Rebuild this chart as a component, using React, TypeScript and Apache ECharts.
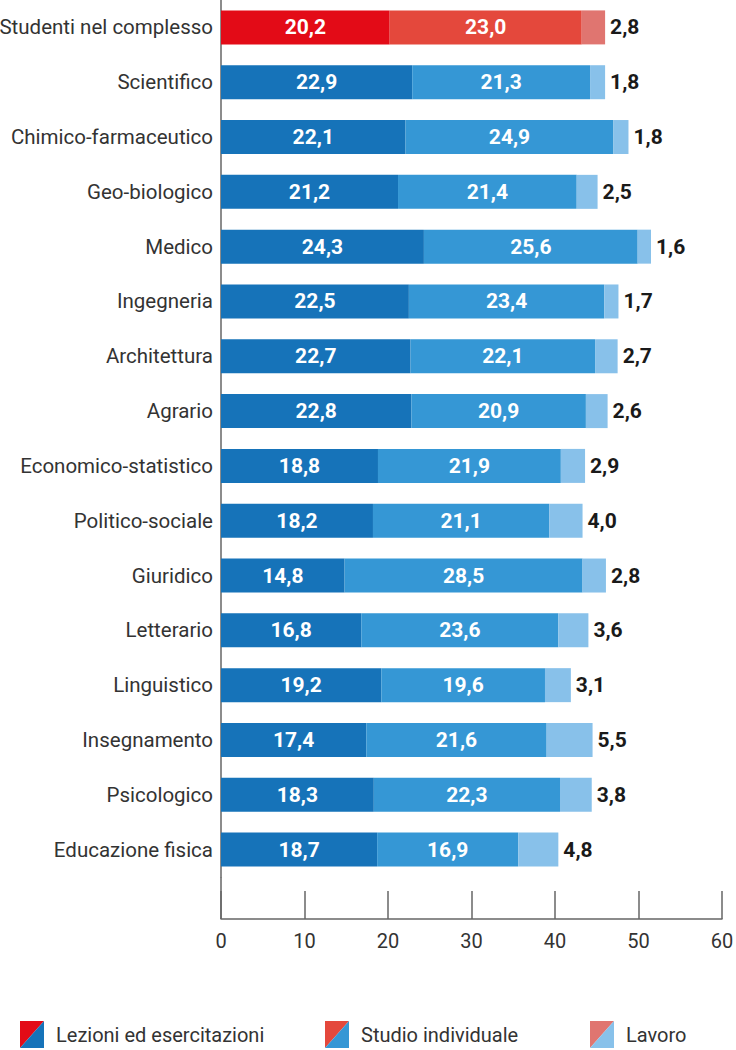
import React, { useEffect, useRef } from "react";
import * as echarts from "echarts";

const categories = [
  "Studenti nel complesso",
  "Scientifico",
  "Chimico-farmaceutico",
  "Geo-biologico",
  "Medico",
  "Ingegneria",
  "Architettura",
  "Agrario",
  "Economico-statistico",
  "Politico-sociale",
  "Giuridico",
  "Letterario",
  "Linguistico",
  "Insegnamento",
  "Psicologico",
  "Educazione fisica",
];

const lezioni = [20.2, 22.9, 22.1, 21.2, 24.3, 22.5, 22.7, 22.8, 18.8, 18.2, 14.8, 16.8, 19.2, 17.4, 18.3, 18.7];
const studio = [23.0, 21.3, 24.9, 21.4, 25.6, 23.4, 22.1, 20.9, 21.9, 21.1, 28.5, 23.6, 19.6, 21.6, 22.3, 16.9];
const lavoro = [2.8, 1.8, 1.8, 2.5, 1.6, 1.7, 2.7, 2.6, 2.9, 4.0, 2.8, 3.6, 3.1, 5.5, 3.8, 4.8];

const seriesNames = ["Lezioni ed esercitazioni", "Studio individuale", "Lavoro"];
const blueColors = ["#1673b9", "#3597d5", "#88c1ea"];
const redColors = ["#e30b17", "#e4483c", "#e07570"];
const xTicks = [0, 10, 20, 30, 40, 50, 60];

const FONT = "Roboto, 'Noto Sans', sans-serif";

const fmt = (v: number) => v.toFixed(1).replace(".", ",");

export default function App() {
  const ref = useRef<HTMLDivElement>(null);

  useEffect(() => {
    document.body.style.margin = "0";
    if (!ref.current) return;
    const chart = echarts.init(ref.current, null, { renderer: "svg" });

    const all = [lezioni, studio, lavoro];
    const series = all.map((arr, si) => ({
      name: seriesNames[si],
      type: "bar",
      stack: "total",
      barWidth: 34,
      data: arr.map((v, i) => ({
        value: v,
        itemStyle: { color: i === 0 ? redColors[si] : blueColors[si] },
      })),
      label: {
        show: true,
        position: si === 2 ? "right" : "inside",
        distance: 5,
        formatter: (p: any) => fmt(p.value),
        color: si === 2 ? "#1a1a1a" : "#ffffff",
        fontFamily: FONT,
        fontWeight: "bold",
        fontSize: 21,
      },
    }));

    const legendX = [20, 325, 590];
    const graphic: any[] = [
      {
        type: "line",
        shape: { x1: 221, y1: 877, x2: 221, y2: 919 },
        style: { stroke: "#666", lineWidth: 1.5 },
      },
    ];
    seriesNames.forEach((name, i) => {
      const x = legendX[i];
      const y = 1021;
      const w = 24;
      const h = 27;
      graphic.push({
        type: "polygon",
        shape: { points: [[x, y], [x + w, y], [x, y + h]] },
        style: { fill: redColors[i] },
      });
      graphic.push({
        type: "polygon",
        shape: { points: [[x + w, y], [x + w, y + h], [x, y + h]] },
        style: { fill: blueColors[i] },
      });
      graphic.push({
        type: "text",
        x: x + w + 12,
        y: y + h / 2,
        style: {
          text: name,
          fill: "#333",
          font: `20px ${FONT}`,
          verticalAlign: "middle",
        },
      });
    });

    chart.setOption({
      animation: false,
      grid: {
        left: 221,
        top: 0,
        height: 877,
        right: 14,
        containLabel: false,
        outerBoundsMode: "none",
      },
      xAxis: {
        type: "value",
        min: xTicks[0],
        max: xTicks[xTicks.length - 1],
        interval: 10,
        offset: 42,
        splitLine: { show: false },
        axisLine: { show: true, lineStyle: { color: "#666", width: 1.5 } },
        axisTick: { show: true, inside: true, length: 28, lineStyle: { color: "#666", width: 1.5 } },
        axisLabel: { color: "#333", fontSize: 20, fontFamily: FONT, margin: 12 },
      },
      yAxis: {
        type: "category",
        data: categories,
        inverse: true,
        axisLine: { show: true, lineStyle: { color: "#666", width: 1.5 } },
        axisTick: { show: false },
        axisLabel: { color: "#333", fontSize: 20.5, fontFamily: FONT, margin: 8 },
      },
      series,
      graphic,
    });

    return () => chart.dispose();
  }, []);

  return <div ref={ref} style={{ width: 736, height: 1050 }} />;
}
